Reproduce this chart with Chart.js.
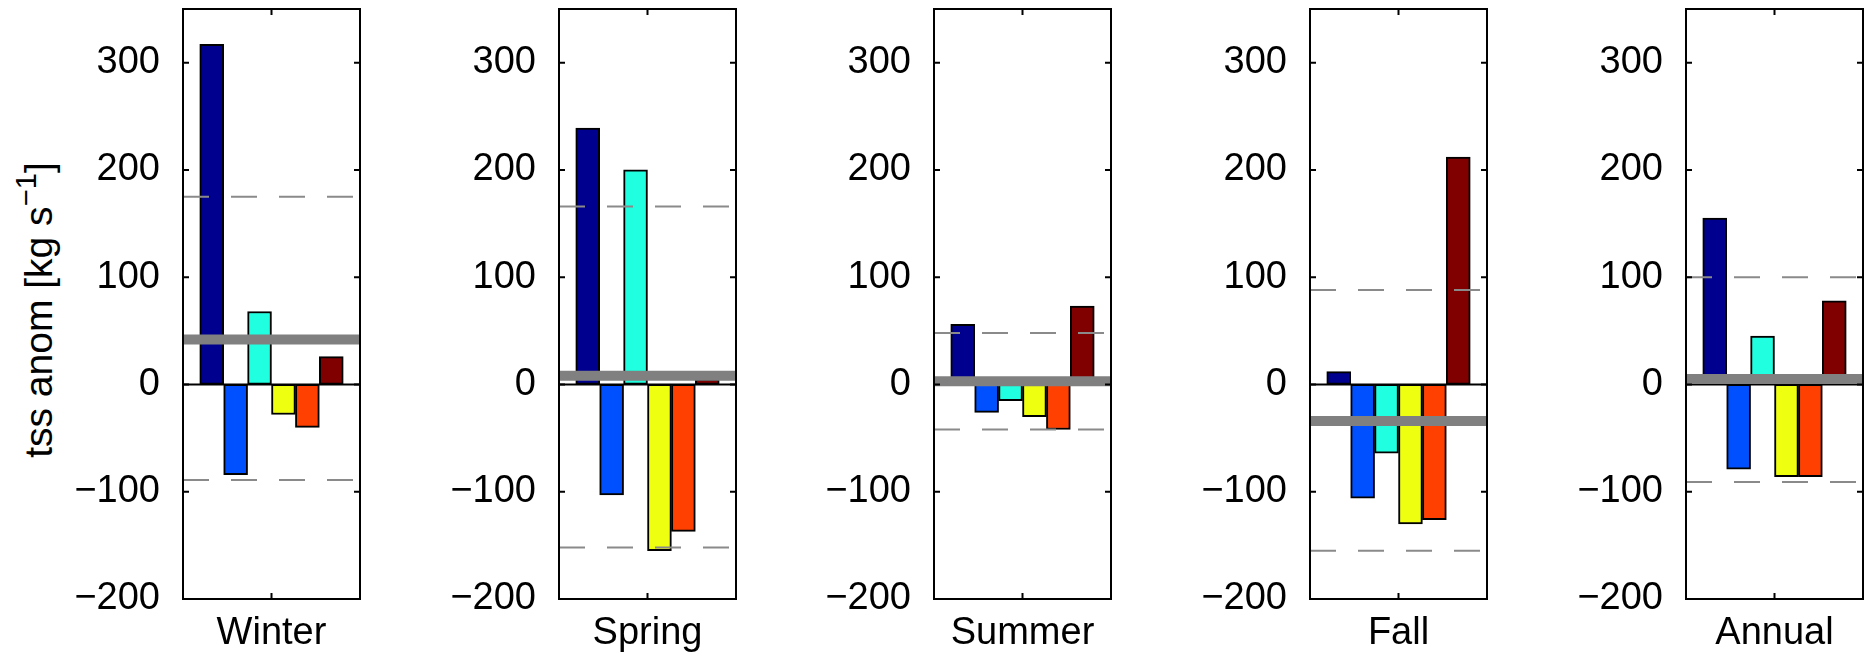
<!DOCTYPE html>
<html><head><meta charset="utf-8">
<script src="https://cdn.jsdelivr.net/npm/chart.js@4.4.1/dist/chart.umd.min.js"></script>
<style>
html,body{margin:0;padding:0;background:#fff;width:1872px;height:656px;overflow:hidden;}
#wrap{position:relative;width:1872px;height:656px;}
canvas{position:absolute;top:0;}
#ylab{position:absolute;left:38px;top:310px;transform:translate(-50%,-50%) rotate(-90deg);font:39px "Liberation Sans",Arial,sans-serif;line-height:1;white-space:nowrap;color:#000;}
#ylab sup{font-size:0.75em;position:relative;top:-0.55em;vertical-align:baseline;}
</style></head><body>
<div id="wrap">
<div id="ylab">tss anom [kg s<sup>−1</sup>]</div>
</div>
<script>
// ---- data ----
const seasons = ['Winter', 'Spring', 'Summer', 'Fall', 'Annual'];
const winterVals = [317, -84, 68, -28, -40, 26];
const springVals = [239, -103, 200, -155, -137, 5];
const summerVals = [56, -26, -15, -30, -42, 73];
const fallVals   = [12, -106, -64, -130, -126, 212];
const annualVals = [155, -79, 45, -86, -86, 78];
const meanVals   = [42, 8, 3, -34, 5];
const upperVals  = [175, 166, 48, 88, 100];
const lowerVals  = [-89, -152, -42, -155, -91];
const barPositions = [1, 2, 3, 4, 5, 6];
const groupCenter = 3.5;
const yTickVals   = [-200, -100, 0, 100, 200, 300];
const yTickLabels = ['−200', '−100', '0', '100', '200', '300'];
const panelVals = [winterVals, springVals, summerVals, fallVals, annualVals];

// ---- style / layout ----
const barColors = ['#00008F', '#0050FF', '#20FFDF', '#EFFF10', '#FF4000', '#800000'];
const FONT = '"Liberation Sans", Arial, sans-serif';
const panelLefts = [183, 559, 934, 1310, 1686];
const plotW = 177, yAxisW = 150, padR = 5, H = 656;
const xMin = -0.2, xMax = 7.2, yMin = -200, yMax = 350;

const boxPlugin = {
  id: 'box',
  afterDraw(chart) {
    const {ctx, chartArea: a, scales: {x, y}} = chart;
    ctx.save();
    ctx.strokeStyle = '#000';
    ctx.lineWidth = 2;
    ctx.strokeRect(a.left, a.top, a.right - a.left, a.bottom - a.top);
    ctx.beginPath();
    yTickVals.forEach(v => {
      const py = y.getPixelForValue(v);
      ctx.moveTo(a.left, py); ctx.lineTo(a.left + 6, py);
      ctx.moveTo(a.right, py); ctx.lineTo(a.right - 6, py);
    });
    const px = x.getPixelForValue(groupCenter);
    ctx.moveTo(px, a.top); ctx.lineTo(px, a.top + 6);
    ctx.moveTo(px, a.bottom); ctx.lineTo(px, a.bottom - 6);
    ctx.stroke();
    ctx.restore();
  }
};

function hline(v, color, width, dash, order) {
  return {type: 'line', data: [{x: xMin, y: v}, {x: xMax, y: v}], borderColor: color,
    borderWidth: width, borderDash: dash, pointRadius: 0, fill: false, tension: 0, order: order};
}

const wrap = document.getElementById('wrap');
seasons.forEach((name, i) => {
  const cv = document.createElement('canvas');
  const w = yAxisW + plotW + padR;
  cv.width = w; cv.height = H;
  cv.style.left = (panelLefts[i] - yAxisW) + 'px';
  cv.style.width = w + 'px'; cv.style.height = H + 'px';
  wrap.appendChild(cv);
  new Chart(cv, {
    type: 'bar',
    data: {
      datasets: [
        {type: 'bar', data: panelVals[i].map((v, j) => ({x: barPositions[j], y: v})),
         backgroundColor: barColors, borderColor: '#000', borderWidth: 2, borderSkipped: false,
         categoryPercentage: 1, barPercentage: 1, order: 5},
        hline(0, '#000', 2, [], 3),
        hline(upperVals[i], '#8a8a8a', 2, [26, 22], 2),
        hline(lowerVals[i], '#8a8a8a', 2, [26, 22], 2),
        hline(meanVals[i], '#808080', 10, [], 0)
      ]
    },
    options: {
      responsive: false, animation: false, devicePixelRatio: 1,
      layout: {padding: {top: 9, right: padR, bottom: 0, left: 0}},
      plugins: {legend: {display: false}, tooltip: {enabled: false}},
      scales: {
        x: {type: 'linear', position: 'bottom', min: xMin, max: xMax, offset: false,
            grid: {display: false, offset: false}, border: {display: false}, ticks: {display: false},
            title: {display: true, text: name, color: '#000', font: {size: 38, family: FONT}, padding: {top: 0, bottom: 0}},
            afterFit: s => { s.height = 57; s.paddingLeft = 0; s.paddingRight = 0; }},
        y: {type: 'linear', position: 'left', min: yMin, max: yMax,
            grid: {display: false}, border: {display: false},
            ticks: {color: '#000', font: {size: 38, family: FONT}, padding: 15,
                    callback: v => { const k = yTickVals.indexOf(v); return k >= 0 ? yTickLabels[k] : ''; }},
            afterBuildTicks: s => { s.ticks = yTickVals.map(v => ({value: v})); },
            afterFit: s => { s.width = yAxisW; s.paddingTop = 0; s.paddingBottom = 0; }}
      }
    },
    plugins: [boxPlugin]
  });
});
</script>
</body></html>
